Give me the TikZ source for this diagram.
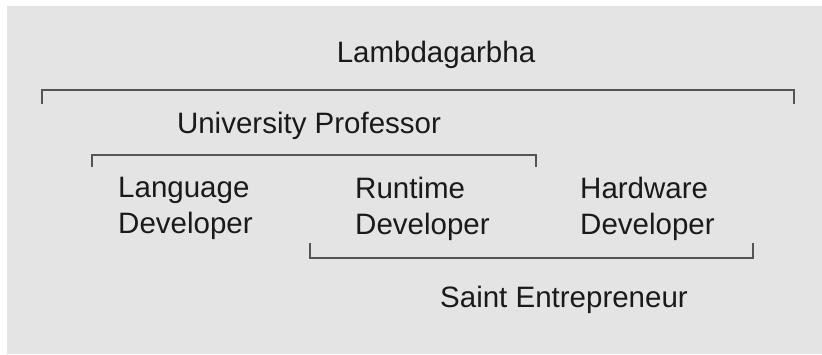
\documentclass[tikz,border=0pt]{standalone}
\usepackage{fontspec}
\setmainfont{Liberation Sans}
\usepackage{xcolor}
\usepackage{tikz}
\usetikzlibrary{positioning}

\definecolor{panelgray}{HTML}{E4E4E4}
\definecolor{bracketgray}{HTML}{555555}
\definecolor{inkblack}{HTML}{1A1A1A}

\begin{document}
\begin{tikzpicture}[
    x=1pt, y=-1pt,
    role/.style={inner sep=0pt, text=inkblack, font=\fontsize{29.5}{35.5}\selectfont},
    block/.style={role, align=left, anchor=north west},
    bracket/.style={draw=bracketgray, line width=1.4pt}
]

% Canvas and panel
\useasboundingbox (0,0) rectangle (822,354);
\fill[panelgray] (7,6) rectangle (822,354);

% Top level
\node[role, anchor=base] (lambda) at (436,62) {Lambdagarbha};
\coordinate (lamL) at (42,104);
\coordinate (lamR) at (794,104);
\draw[bracket] (lamL) -- ++(0,-14) -| (lamR);

% Professor group
\node[role, anchor=base] (prof) at (309,133) {University Professor};
\coordinate (profL) at (92,167);
\coordinate (profR) at (536,167);
\draw[bracket] (profL) -- ++(0,-12) -| (profR);

% Developers
\node[block] (lang) at (118,177) {Language\\Developer};
\node[block] (run) at (355,177) {Runtime\\Developer};
\node[block] (hw) at (580,177) {Hardware\\Developer};

% Entrepreneur group
\coordinate (saintL) at (310,243);
\coordinate (saintR) at (753,243);
\draw[bracket] (saintL) -- ++(0,15) -| (saintR);
\node[role, anchor=base] (saint) at (564,307) {Saint Entrepreneur};

\end{tikzpicture}
\end{document}
